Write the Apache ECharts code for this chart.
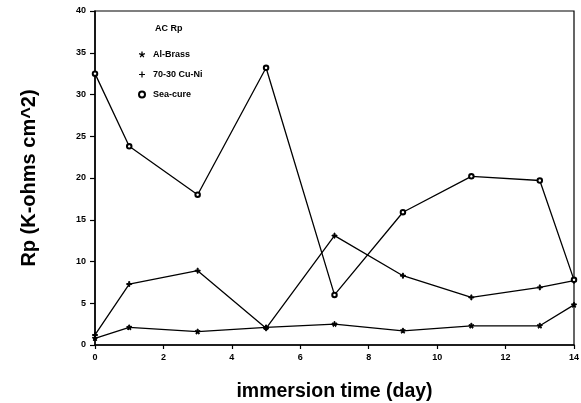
<!DOCTYPE html>
<html><head><meta charset="utf-8">
<script src="https://cdn.jsdelivr.net/npm/echarts@6/dist/echarts.min.js"></script>
<style>html,body{margin:0;padding:0;background:#fff}#c{width:581px;height:403px}</style>
</head><body><div id="c"></div>
<script>
var days = [0, 1, 3, 5, 7, 9, 11, 13, 14];
var alBrass = [0.8, 2.1, 1.6, 2.1, 2.5, 1.7, 2.3, 2.3, 4.8];
var cuNi = [1.2, 7.3, 8.9, 2.0, 13.1, 8.3, 5.7, 6.9, 7.7];
var seaCure = [32.5, 23.8, 18.0, 33.2, 6.0, 15.9, 20.2, 19.7, 7.8];
var seriesNames = ['Al-Brass', '70-30 Cu-Ni', 'Sea-cure'];
var legendTitle = 'AC Rp';
var xTitle = 'immersion time (day)';
var yTitle = 'Rp (K-ohms cm^2)';

function pairs(v){ return days.map(function(d,i){ return [d, v[i]]; }); }
var plus = 'path://M4,0L6,0L6,4L10,4L10,6L6,6L6,10L4,10L4,6L0,6L0,4L4,4Z';
var star = 'path://M4,0L6,0L6,3.5L9.3,2.4L9.9,4.3L6.6,5.4L8.6,8.2L7,9.4L5,6.6L3,9.4L1.4,8.2L3.4,5.4L0.1,4.3L0.7,2.4L4,3.5Z';
var font = 'Liberation Sans';
var chart = echarts.init(document.getElementById('c'));
chart.setOption({
  animation: false,
  backgroundColor: '#fff',
  grid: { left: 95, right: 7, top: 11, bottom: 58, show: true, borderColor: '#000', borderWidth: 1.2,
          containLabel: false, outerBoundsMode: 'none' },
  xAxis: {
    type: 'value', min: 0, max: 14, interval: 2,
    name: xTitle, nameLocation: 'middle', nameGap: 37,
    nameTextStyle: { fontFamily: font, fontWeight: 'bold', fontSize: 19.5, color: '#000' },
    axisLine: { lineStyle: { color: '#000', width: 1.5 } },
    axisTick: { show: true, length: 4, lineStyle: { color: '#000', width: 1.2 } },
    axisLabel: { fontFamily: font, fontWeight: 'bold', fontSize: 9, color: '#000', margin: 8 },
    splitLine: { show: false }
  },
  yAxis: {
    type: 'value', min: 0, max: 40, interval: 5,
    name: yTitle, nameLocation: 'middle', nameGap: 56, nameRotate: 90,
    nameTextStyle: { fontFamily: font, fontWeight: 'bold', fontSize: 20, color: '#000' },
    axisLine: { show: true, lineStyle: { color: '#000', width: 1.5 } },
    axisTick: { show: true, length: 5, lineStyle: { color: '#000', width: 1.2 } },
    axisLabel: { fontFamily: font, fontWeight: 'bold', fontSize: 9, color: '#000', margin: 9 },
    splitLine: { show: false }
  },
  legend: {
    orient: 'vertical', left: 133, top: 45, itemGap: 11, itemWidth: 12, itemHeight: 6,
    textStyle: { fontFamily: font, fontWeight: 'bold', fontSize: 9, color: '#000' },
    data: [
      { name: seriesNames[0], icon: star },
      { name: seriesNames[1], icon: plus },
      { name: seriesNames[2], icon: 'emptyCircle' }
    ]
  },
  graphic: [{
    type: 'text', left: 155, top: 24,
    style: { text: legendTitle, fontFamily: font, fontWeight: 'bold', fontSize: 9, fill: '#000' }
  }],
  series: [
    { name: seriesNames[0], type: 'line', data: pairs(alBrass), symbol: star, symbolSize: 5,
      lineStyle: { color: '#000', width: 1.3 }, itemStyle: { color: '#000', borderColor: '#000' } },
    { name: seriesNames[1], type: 'line', data: pairs(cuNi), symbol: plus, symbolSize: 5,
      lineStyle: { color: '#000', width: 1.3 }, itemStyle: { color: '#000', borderColor: '#000' } },
    { name: seriesNames[2], type: 'line', data: pairs(seaCure), symbol: 'emptyCircle', symbolSize: 4.5,
      lineStyle: { color: '#000', width: 1.3 }, itemStyle: { color: '#000', borderColor: '#000', borderWidth: 1.3 } }
  ]
});
</script></body></html>
